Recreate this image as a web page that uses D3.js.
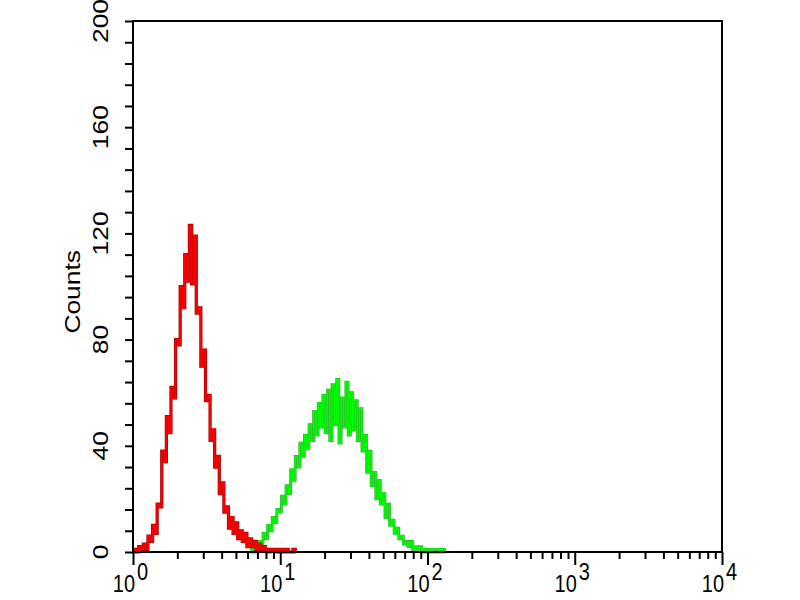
<!DOCTYPE html>
<html>
<head>
<meta charset="utf-8">
<script src="https://cdn.jsdelivr.net/npm/d3@7"></script>
<style>
  body { margin: 0; background: #fff; }
  svg { display: block; }
  text { font-family: "Liberation Sans", Arial, sans-serif; fill: #000; }
</style>
</head>
<body>
<div id="chart"></div>
<script>
// histogram channels: 1024 channels over 4 decades, every 4th channel kept
const channelsPerDecade = 256;
const channelStep = 4;

// isotype control (red), starts at channel 0
const redStart = 0;
const redCounts = [
  0, 1, 0, 2, 1, 3, 1, 6, 4, 10,
  7, 18, 17, 38, 34, 51, 45, 62, 58, 80,
  78, 100, 92, 112, 102, 123, 101, 119, 90, 92,
  70, 76, 57, 59, 42, 46, 32, 36, 22, 26,
  15, 17, 9, 13, 7, 11, 5, 8, 4, 7,
  2, 5, 2, 4, 1, 3, 1, 2, 1, 0,
  1, 1, 0, 1, 0, 1, 0, 1, 0, 0,
  1, 0,
];

// stained sample (green), starts at channel 204
const greenStart = 204;
const greenCounts = [
  0, 1, 0, 2, 4, 3, 7, 5, 10, 8,
  13, 11, 16, 15, 21, 18, 25, 22, 31, 27,
  36, 32, 41, 36, 44, 39, 48, 42, 53, 44,
  56, 47, 59, 45, 61, 42, 63, 48, 65, 41,
  58, 47, 64, 44, 60, 46, 57, 42, 54, 38,
  44, 30, 38, 25, 30, 20, 27, 18, 22, 13,
  18, 10, 12, 7, 9, 5, 6, 3, 4, 2,
  4, 1, 2, 1, 2, 0, 1, 0, 1, 0,
  1, 0, 1, 0, 1, 0,
];

const xDecades = [0, 1, 2, 3, 4];
const yTicks = [0, 40, 80, 120, 160, 200];

// set the dimensions and margins of the graph
const margin = { top: 21, right: 76, bottom: 48, left: 133 };
const width = 800 - margin.left - margin.right;
const height = 600 - margin.top - margin.bottom;

const svg = d3.select('#chart')
  .append('svg')
  .attr('width', 800)
  .attr('height', 600)
  .append('g')
  .attr('transform', `translate(${margin.left},${margin.top})`);

const x = d3.scaleLog()
  .domain([1, 10000])
  .range([0, width - 2]);

const y = d3.scaleLinear()
  .domain([0, 200])
  .range([height, 0]);

const toPoints = (counts, start) => counts.map((c, i) => ({
  fl: Math.pow(10, (start + i * channelStep) / channelsPerDecade),
  count: c,
}));

const line = d3.line()
  .x(d => x(d.fl))
  .y(d => y(d.count))
  .curve(d3.curveStep);

// curves: green first, red over it
[
  { pts: toPoints(greenCounts, greenStart), dark: '#2fb82f', bright: '#00ff00', w: 2.8 },
  { pts: toPoints(redCounts, redStart), dark: '#a00000', bright: '#ff0000', w: 3.2 },
].forEach(s => {
  svg.append('path')
    .datum(s.pts)
    .attr('fill', 'none')
    .attr('stroke', s.dark)
    .attr('stroke-width', s.w)
    .attr('d', line);
  svg.append('path')
    .datum(s.pts)
    .attr('fill', 'none')
    .attr('stroke', s.bright)
    .attr('stroke-width', s.w - 1.3)
    .attr('d', line);
});

// frame
svg.append('rect')
  .attr('x', 0)
  .attr('y', 0)
  .attr('width', x(10000))
  .attr('height', height)
  .attr('fill', 'none')
  .attr('stroke', '#000')
  .attr('stroke-width', 2);

// y axis: minor ticks every 8, labels every 40
const yAxis = svg.append('g')
  .call(d3.axisLeft(y).tickValues(d3.range(0, 201, 8)).tickSize(8).tickFormat(''));
yAxis.select('.domain').remove();
yAxis.selectAll('line').attr('stroke-width', 2);

svg.selectAll('.ylab')
  .data(yTicks)
  .enter()
  .append('text')
  .attr('class', 'ylab')
  .attr('transform', d => `translate(-25,${y(d)}) rotate(-90) scale(1.2,1)`)
  .attr('text-anchor', 'middle')
  .attr('font-size', 22)
  .text(d => d);

svg.append('text')
  .attr('transform', `translate(-53,${y(98)}) rotate(-90) scale(1.2,1)`)
  .attr('text-anchor', 'middle')
  .attr('font-size', 22)
  .text('Counts');

// x axis: decades long ticks, 2..9 short ticks
const minor = [];
xDecades.slice(0, -1).forEach(p => {
  for (let m = 2; m < 10; m += 1) minor.push(m * Math.pow(10, p));
});
const major = xDecades.map(p => Math.pow(10, p));

const xMinor = svg.append('g')
  .attr('transform', `translate(0,${height})`)
  .call(d3.axisBottom(x).tickValues(minor).tickSize(7).tickFormat(''));
xMinor.select('.domain').remove();
xMinor.selectAll('line').attr('stroke-width', 2);

const xMajor = svg.append('g')
  .attr('transform', `translate(0,${height})`)
  .call(d3.axisBottom(x).tickValues(major).tickSize(13).tickFormat(''));
xMajor.select('.domain').remove();
xMajor.selectAll('line').attr('stroke-width', 2);

const xLab = svg.selectAll('.xlab')
  .data(xDecades)
  .enter()
  .append('g')
  .attr('class', 'xlab')
  .attr('transform', p => `translate(${x(Math.pow(10, p))},${height + 40}) scale(1,1.2)`);

xLab.append('text')
  .attr('x', 2)
  .attr('text-anchor', 'end')
  .attr('font-size', 20)
  .text('10');

xLab.append('text')
  .attr('x', 4)
  .attr('y', -10)
  .attr('font-size', 20)
  .text(p => p);
</script>
</body>
</html>
